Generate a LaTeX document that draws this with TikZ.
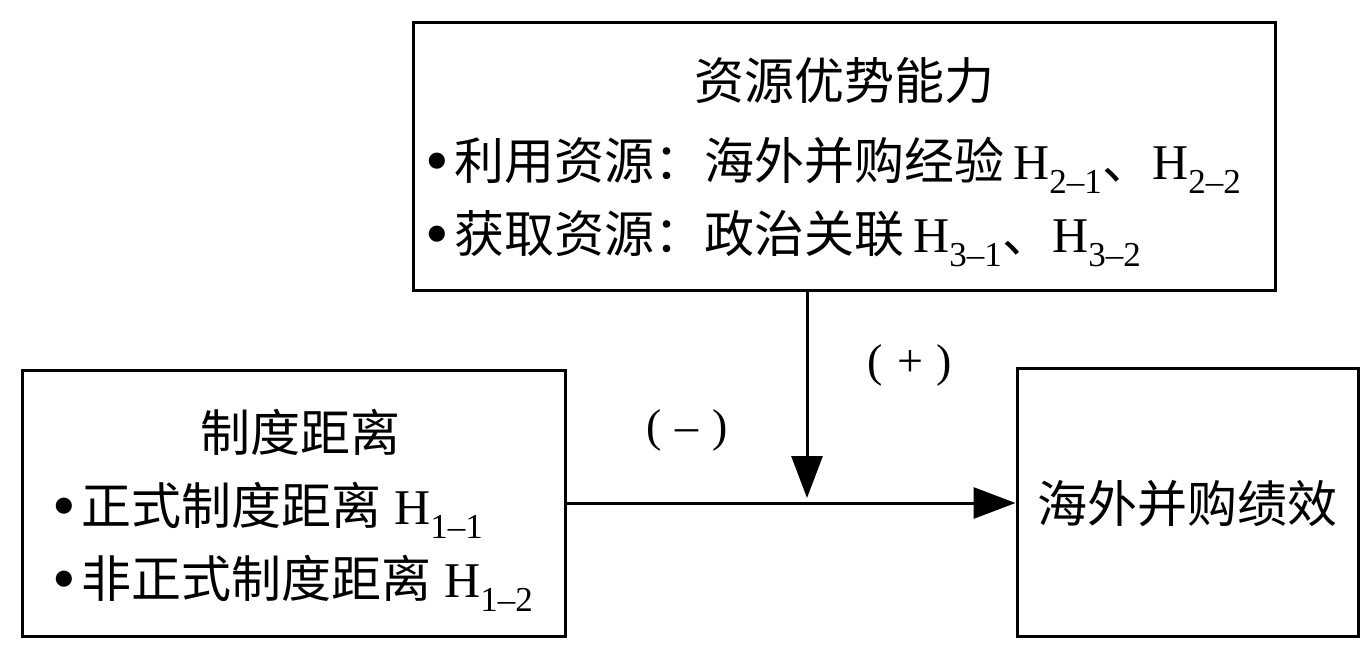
\documentclass[tikz,border=0pt]{standalone}
\usepackage{fontspec}
\usepackage{graphicx}
\setmainfont{Liberation Serif}
\newfontfamily\cjk{Noto Sans CJK SC}
\usetikzlibrary{arrows.meta}
\newcommand\Hs[1]{H\textsubscript{#1}}
\newcommand\bul{\raisebox{-4pt}{\scalebox{1.35}{\textbullet}}\hspace{0.12em}}
\begin{document}
\begin{tikzpicture}[x=1pt,y=-1pt,
  box/.style={draw, line width=3pt, inner sep=0pt},
  txt/.style={inner sep=0pt, font=\fontsize{50}{60}\selectfont},
  lbl/.style={inner sep=0pt, font=\fontsize{46}{52}\selectfont},
  arr/.style={line width=3pt, -{Triangle[width=31pt,length=42pt]}}]
\useasboundingbox (0,0) rectangle (1372,659);
\fill[white] (0,0) rectangle (1372,659);
% boxes
\node[box, minimum width=862pt, minimum height=268pt] (res) at (844,156) {};
\node[box, minimum width=543pt, minimum height=266pt] (inst) at (293.5,503) {};
\node[box, minimum width=341pt, minimum height=268pt] (perf) at (1187.5,502) {};
% texts
\node[txt, anchor=base] (rest) at (844,99) {\cjk 资源优势能力};
\node[txt, anchor=base west] (res1) at (425,179) {\bul{\cjk 利用资源：海外并购经验}\,\Hs{2--1}{\cjk 、}\Hs{2--2}};
\node[txt, anchor=base west] (res2) at (425,252) {\bul{\cjk 获取资源：政治关联}\,\Hs{3--1}{\cjk 、}\Hs{3--2}};
\node[txt, anchor=base] (instt) at (300,451) {\cjk 制度距离};
\node[txt, anchor=base west] (inst1) at (52,524) {\bul{\cjk 正式制度距离} \Hs{1--1}};
\node[txt, anchor=base west] (inst2) at (52,597) {\bul{\cjk 非正式制度距离} \Hs{1--2}};
\node[txt, anchor=base] (perft) at (1187,522) {\cjk 海外并购绩效};
% connectors
\coordinate (mid) at (807,503);
\draw[arr] (inst.east |- mid) -- (perf.west |- mid);
\draw[arr] (res.south -| mid) -- ([yshift=5pt]mid);
\node[lbl] (plus) at (910,365) {(\hspace{0.3em}+\hspace{0.3em})};
\node[lbl] (minus) at (687,430) {(\hspace{0.3em}--\hspace{0.3em})};
\end{tikzpicture}
\end{document}
